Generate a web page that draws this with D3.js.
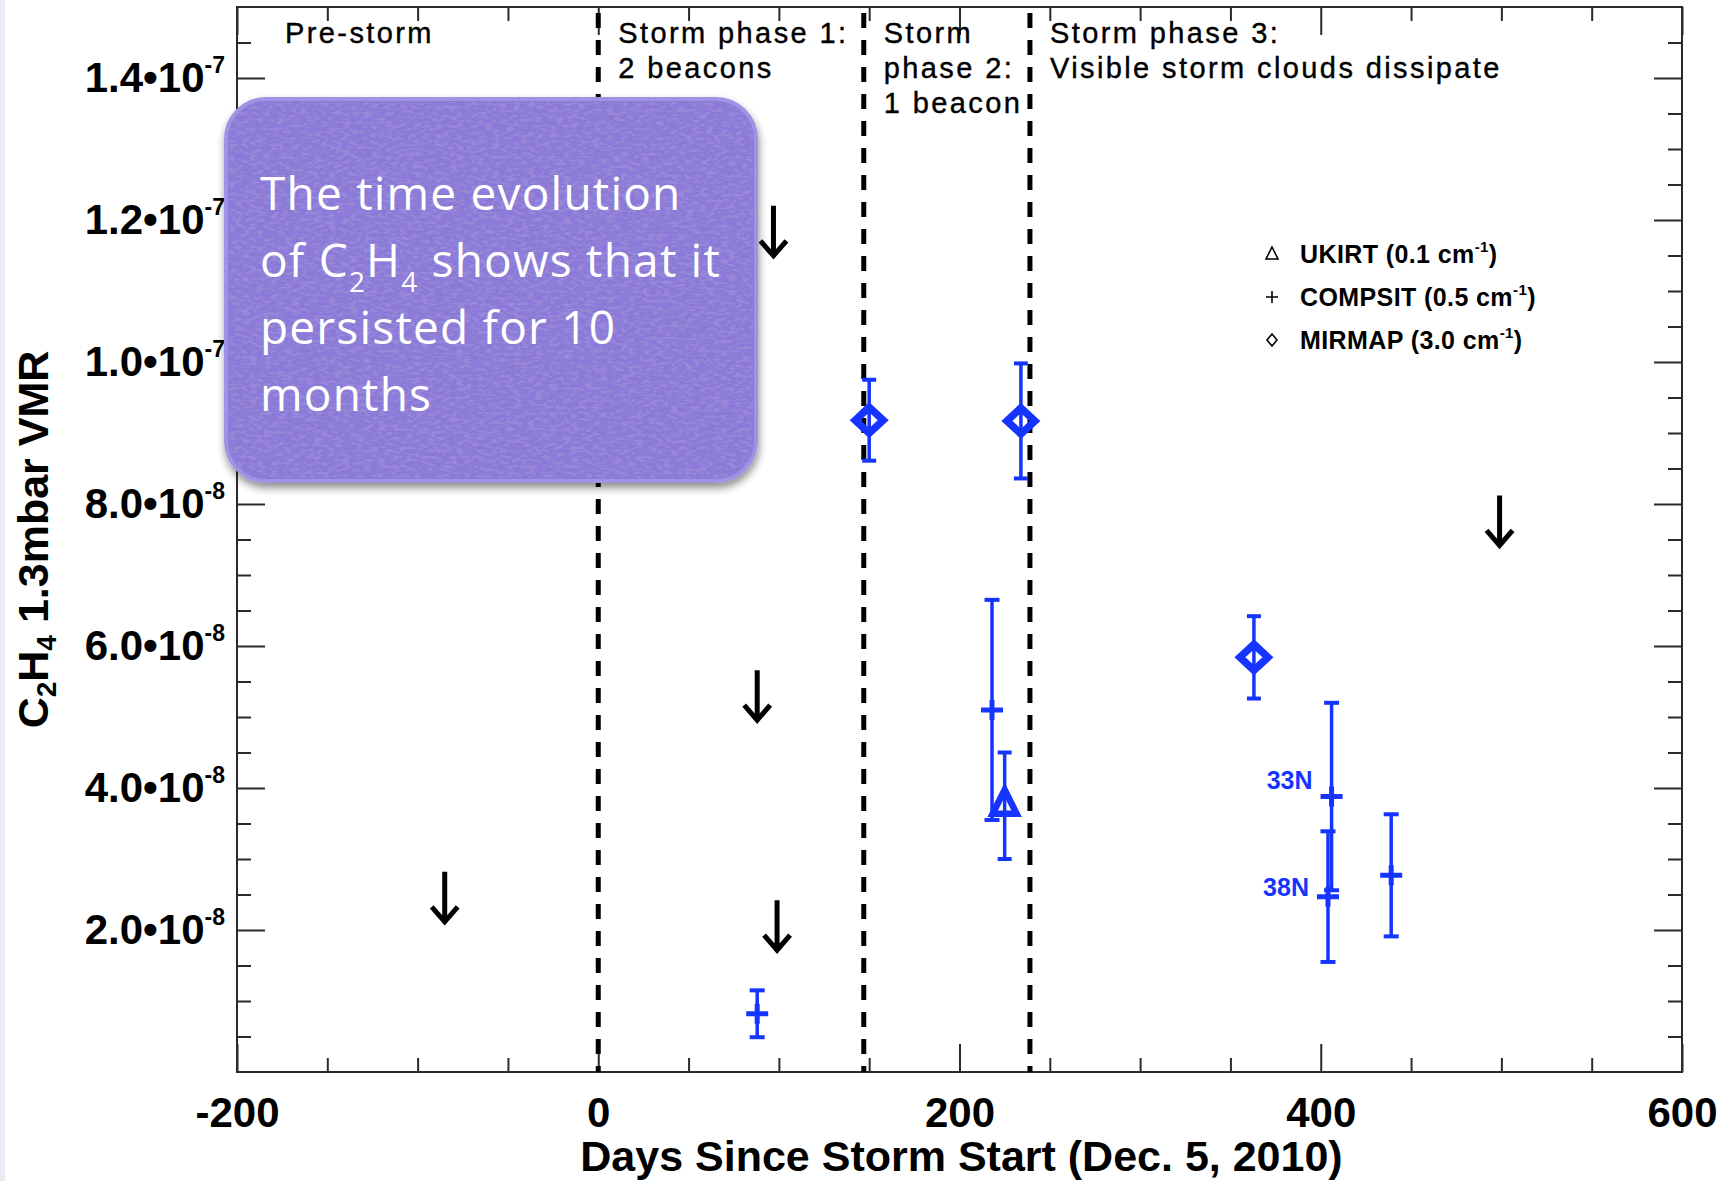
<!DOCTYPE html>
<html>
<head>
<meta charset="utf-8">
<script src="https://cdn.jsdelivr.net/npm/d3@7"></script>
<style>
  html, body { margin: 0; padding: 0; background: #ffffff; }
  svg { display: block; }
</style>
</head>
<body>
<svg id="chart" width="1730" height="1181"></svg>
<script>
// C2H4 volume mixing ratio at 1.3 mbar versus days since the storm began (Dec. 5, 2010)

// ---- axis ticks ----
const xTickValues = [-200, 0, 200, 400, 600];
const xTickLabels = ["-200", "0", "200", "400", "600"];
const xMinorTicks = [-150, -100, -50, 50, 100, 150, 250, 300, 350, 450, 500, 550];
const yTickValues = [2e-8, 4e-8, 6e-8, 8e-8, 1.0e-7, 1.2e-7, 1.4e-7];
const yTickMantissa = ["2.0", "4.0", "6.0", "8.0", "1.0", "1.2", "1.4"];
const yTickExponent = ["-8", "-8", "-8", "-8", "-7", "-7", "-7"];
const yMinorTicks = [0.5e-8, 1.0e-8, 1.5e-8, 2.5e-8, 3.0e-8, 3.5e-8, 4.5e-8, 5.0e-8, 5.5e-8,
                     6.5e-8, 7.0e-8, 7.5e-8, 8.5e-8, 9.0e-8, 9.5e-8, 1.05e-7, 1.1e-7, 1.15e-7,
                     1.25e-7, 1.3e-7, 1.35e-7, 1.45e-7];

// ---- storm phases ----
const phaseBoundaries = [0, 147, 239];
const phaseStarts = [-200, 0, 147, 239];
const phaseLabels = [
  ["Pre-storm"],
  ["Storm phase 1:", "2 beacons"],
  ["Storm", "phase 2:", "1 beacon"],
  ["Storm phase 3:", "Visible storm clouds dissipate"]
];

// ---- retrievals (value and 1-sigma error) ----
const ukirtDays = [225];
const ukirtVMR  = [3.75e-8];
const ukirtErr  = [0.75e-8];

const compsitDays = [88, 218, 406, 404, 439];
const compsitVMR  = [0.82e-8, 5.10e-8, 3.88e-8, 2.47e-8, 2.77e-8];
const compsitErr  = [0.33e-8, 1.55e-8, 1.32e-8, 0.92e-8, 0.86e-8];
const compsitLat  = ["", "", "33N", "38N", ""];

const mirmapDays = [150, 234, 363];
const mirmapVMR  = [9.18e-8, 9.17e-8, 5.84e-8];
const mirmapErr  = [0.57e-8, 0.81e-8, 0.58e-8];

// ---- upper limits (non-detections) ----
const limitDays = [-85, 88, 97, 99, 499];
const limitVMR  = [2.82e-8, 5.66e-8, 1.22e-7, 2.42e-8, 8.12e-8];

// ---- legend ----
const legendSymbols = ["triangle", "plus", "diamond"];
const legendNames   = ["UKIRT (0.1 cm", "COMPSIT (0.5 cm", "MIRMAP (3.0 cm"];

// ---- annotation ----
const noteLines = [
  [{t: "The time evolution"}],
  [{t: "of C"}, {t: "2", sub: true}, {t: "H"}, {t: "4", sub: true}, {t: " shows that it"}],
  [{t: "persisted for 10"}],
  [{t: "months"}]
];

// ================= drawing =================
const svg = d3.select("#chart");
const FONT = "'Liberation Sans', Arial, Helvetica, sans-serif";
const BLUE = "#1634ff";
const AXIS = "#2a2a2a";

const plot = {left: 237, right: 1682, top: 7, bottom: 1072};
const x = d3.scaleLinear().domain([-200, 600]).range([plot.left, plot.right]);
const y = d3.scaleLinear().domain([0, 1.5e-7]).range([plot.bottom, plot.top]);

// faint page edge on the left
svg.append("rect").attr("x", 0).attr("y", 0).attr("width", 5).attr("height", 1181).attr("fill", "#ecebf3");

const defs = svg.append("defs");
defs.append("clipPath").attr("id", "plotClip").append("rect")
  .attr("x", plot.left).attr("y", plot.top)
  .attr("width", plot.right - plot.left).attr("height", plot.bottom - plot.top);

function styleAxis(g) {
  g.select(".domain").remove();
  g.selectAll(".tick line").attr("stroke", AXIS).attr("stroke-width", 2);
}

// ticks on all four sides, pointing inward
const major = 28, minor = 14;
svg.append("g").attr("transform", `translate(0,${plot.bottom})`)
  .call(d3.axisBottom(x).tickValues(xMinorTicks).tickSize(-minor).tickFormat("")).call(styleAxis);
const xAxis = svg.append("g").attr("transform", `translate(0,${plot.bottom})`)
  .call(d3.axisBottom(x).tickValues(xTickValues).tickSize(-major).tickPadding(25)
        .tickFormat((d, i) => xTickLabels[i])).call(styleAxis);
xAxis.selectAll("text").attr("font-family", FONT).attr("font-size", 42)
  .attr("font-weight", "bold").attr("fill", "#000");

svg.append("g").attr("transform", `translate(0,${plot.top})`)
  .call(d3.axisTop(x).tickValues(xMinorTicks).tickSize(-minor).tickFormat("")).call(styleAxis);
svg.append("g").attr("transform", `translate(0,${plot.top})`)
  .call(d3.axisTop(x).tickValues(xTickValues).tickSize(-major).tickFormat("")).call(styleAxis);

svg.append("g").attr("transform", `translate(${plot.left},0)`)
  .call(d3.axisLeft(y).tickValues(yMinorTicks).tickSize(-minor).tickFormat("")).call(styleAxis);
svg.append("g").attr("transform", `translate(${plot.left},0)`)
  .call(d3.axisLeft(y).tickValues(yTickValues).tickSize(-major).tickFormat("")).call(styleAxis);
svg.append("g").attr("transform", `translate(${plot.right},0)`)
  .call(d3.axisRight(y).tickValues(yMinorTicks).tickSize(-minor).tickFormat("")).call(styleAxis);
svg.append("g").attr("transform", `translate(${plot.right},0)`)
  .call(d3.axisRight(y).tickValues(yTickValues).tickSize(-major).tickFormat("")).call(styleAxis);

// y tick labels in "m•10^e" form
const yLab = svg.append("g").attr("font-family", FONT).attr("font-weight", "bold").attr("fill", "#000");
yTickValues.forEach((v, i) => {
  const t = yLab.append("text").attr("x", plot.left - 12).attr("y", y(v) + 14)
    .attr("text-anchor", "end").attr("font-size", 42);
  t.append("tspan").text(yTickMantissa[i] + "\u202210");
  t.append("tspan").attr("dy", -19).attr("font-size", 23).text(yTickExponent[i]);
});

// frame
svg.append("rect").attr("x", plot.left).attr("y", plot.top)
  .attr("width", plot.right - plot.left).attr("height", plot.bottom - plot.top)
  .attr("fill", "none").attr("stroke", AXIS).attr("stroke-width", 2);

// axis titles
svg.append("text").attr("x", (plot.left + plot.right) / 2 + 2).attr("y", 1171)
  .attr("text-anchor", "middle").attr("font-family", FONT).attr("font-size", 43)
  .attr("font-weight", "bold").text("Days Since Storm Start (Dec. 5, 2010)");

const yTitle = svg.append("text").attr("transform", `translate(48,${(plot.top + plot.bottom) / 2}) rotate(-90)`)
  .attr("text-anchor", "middle").attr("font-family", FONT).attr("font-size", 43).attr("font-weight", "bold");
yTitle.append("tspan").text("C");
yTitle.append("tspan").attr("dy", 8).attr("font-size", 28).text("2");
yTitle.append("tspan").attr("dy", -8).text("H");
yTitle.append("tspan").attr("dy", 8).attr("font-size", 28).text("4");
yTitle.append("tspan").attr("dy", -8).text(" 1.3mbar VMR");

// phase boundaries
svg.append("g").selectAll("line").data(phaseBoundaries).join("line")
  .attr("x1", d => x(d)).attr("x2", d => x(d))
  .attr("y1", plot.top + 6).attr("y2", plot.bottom)
  .attr("stroke", "#000").attr("stroke-width", 5).attr("stroke-dasharray", "15,12");

// phase labels
const phaseG = svg.append("g").attr("font-family", FONT).attr("font-size", 29)
  .attr("letter-spacing", 2.4).attr("fill", "#000").attr("stroke", "#000").attr("stroke-width", 0.4);
phaseLabels.forEach((lines, i) => {
  const x0 = x(phaseStarts[i]) + (i === 0 ? 48 : 20);
  lines.forEach((s, j) => {
    phaseG.append("text").attr("x", x0).attr("y", 43 + j * 35).text(s);
  });
});

// error bars
const marks = svg.append("g").attr("clip-path", "url(#plotClip)");
function errorBars(days, vals, errs, capHalf) {
  const g = marks.append("g").attr("stroke", BLUE).attr("stroke-width", 3.5).attr("fill", "none");
  days.forEach((d, i) => {
    const cx = x(d), y0 = y(vals[i] - errs[i]), y1 = y(vals[i] + errs[i]);
    g.append("line").attr("x1", cx).attr("x2", cx).attr("y1", y0).attr("y2", y1);
    g.append("line").attr("x1", cx - capHalf).attr("x2", cx + capHalf).attr("y1", y0).attr("y2", y0).attr("stroke-width", 4);
    g.append("line").attr("x1", cx - capHalf).attr("x2", cx + capHalf).attr("y1", y1).attr("y2", y1).attr("stroke-width", 4);
  });
}
errorBars(compsitDays, compsitVMR, compsitErr, 7.5);
errorBars(mirmapDays, mirmapVMR, mirmapErr, 7);
errorBars(ukirtDays, ukirtVMR, ukirtErr, 7);

const symbolPaths = {
  plus: "M-11,0H11M0,-10V10",
  diamond: "M0,-13L14,0L0,13L-14,0Z",
  triangle: "M0,-16L12,8L-12,8Z"
};

marks.append("g").selectAll("path").data(compsitDays).join("path")
  .attr("d", symbolPaths.plus)
  .attr("transform", (d, i) => `translate(${x(d)},${y(compsitVMR[i])})`)
  .attr("fill", "none").attr("stroke", BLUE).attr("stroke-width", 5);

marks.append("g").selectAll("path").data(mirmapDays).join("path")
  .attr("d", symbolPaths.diamond)
  .attr("transform", (d, i) => `translate(${x(d)},${y(mirmapVMR[i])})`)
  .attr("fill", "none").attr("stroke", BLUE).attr("stroke-width", 7.5).attr("stroke-linejoin", "miter");

marks.append("g").selectAll("path").data(ukirtDays).join("path")
  .attr("d", symbolPaths.triangle)
  .attr("transform", (d, i) => `translate(${x(d)},${y(ukirtVMR[i])})`)
  .attr("fill", "none").attr("stroke", BLUE).attr("stroke-width", 6.5);

// latitude tags beside the COMPSIT points
svg.append("g").attr("font-family", FONT).attr("font-size", 25).attr("font-weight", "bold").attr("fill", BLUE)
  .selectAll("text").data(compsitDays.map((d, i) => i).filter(i => compsitLat[i])).join("text")
  .attr("x", i => x(compsitDays[i]) - 19)
  .attr("y", (i, k) => y(compsitVMR[i]) + (k === 0 ? -8 : -1))
  .attr("text-anchor", "end").text(i => compsitLat[i]);

// upper-limit arrows
svg.append("g").selectAll("path").data(limitDays).join("path")
  .attr("d", (d, i) => {
    const cx = x(d), top = y(limitVMR[i]), tip = top + 50;
    return `M${cx},${top}V${tip - 2}M${cx - 13},${tip - 15}L${cx},${tip}L${cx + 13},${tip - 15}`;
  })
  .attr("fill", "none").attr("stroke", "#000").attr("stroke-width", 5).attr("stroke-linejoin", "miter");

// legend
const legendSmall = {
  triangle: "M0,-7L6,5L-6,5Z",
  plus: "M-6,0H6M0,-6V6",
  diamond: "M0,-6L5,0L0,6L-5,0Z"
};
const leg = svg.append("g");
legendNames.forEach((name, i) => {
  const cy = 254 + i * 43;
  leg.append("path").attr("d", legendSmall[legendSymbols[i]])
    .attr("transform", `translate(1272,${cy})`)
    .attr("fill", "none").attr("stroke", "#000").attr("stroke-width", 1.6);
  const t = leg.append("text").attr("x", 1300).attr("y", cy + 9)
    .attr("font-family", FONT).attr("font-size", 25).attr("letter-spacing", 0.4).attr("font-weight", "bold");
  t.append("tspan").text(name);
  t.append("tspan").attr("dy", -11).attr("font-size", 15).text("-1");
  t.append("tspan").attr("dy", 11).text(")");
});

// ---- annotation box ----
const shadow = defs.append("filter").attr("id", "boxShadow")
  .attr("x", "-10%").attr("y", "-10%").attr("width", "125%").attr("height", "130%");
shadow.append("feGaussianBlur").attr("in", "SourceAlpha").attr("stdDeviation", 4);
shadow.append("feOffset").attr("dx", 1).attr("dy", 5).attr("result", "off");
shadow.append("feComponentTransfer").attr("result", "sh")
  .append("feFuncA").attr("type", "linear").attr("slope", 0.45);
const merge = shadow.append("feMerge");
merge.append("feMergeNode").attr("in", "sh");
merge.append("feMergeNode").attr("in", "SourceGraphic");

const grain = defs.append("filter").attr("id", "grain")
  .attr("x", 0).attr("y", 0).attr("width", "100%").attr("height", "100%");
grain.append("feTurbulence").attr("type", "fractalNoise").attr("baseFrequency", "0.14 0.32")
  .attr("numOctaves", 3).attr("seed", 7).attr("result", "noise");
grain.append("feColorMatrix").attr("in", "noise").attr("type", "matrix")
  .attr("values", "0 0 0 0 0.34  0 0 0 0 0.27  0 0 0 0 0.68  7 0 0 0 -3.4").attr("result", "dark");
grain.append("feComposite").attr("in", "dark").attr("in2", "SourceAlpha").attr("operator", "in");

const box = {x: 226, y: 99, w: 530, h: 382, r: 40};
const note = svg.append("g");
note.append("rect").attr("x", box.x).attr("y", box.y).attr("width", box.w).attr("height", box.h)
  .attr("rx", box.r).attr("fill", "#8b7ad8").attr("stroke", "#a193e3").attr("stroke-width", 4)
  .attr("filter", "url(#boxShadow)");
note.append("rect").attr("x", box.x + 3).attr("y", box.y + 3).attr("width", box.w - 6).attr("height", box.h - 6)
  .attr("rx", box.r - 3).attr("fill", "#000").attr("opacity", 0.7).attr("filter", "url(#grain)");

const noteText = note.append("g").attr("font-family", "'Open Sans', Lato, sans-serif")
  .attr("font-size", 46).attr("letter-spacing", 1.2).attr("fill", "#ffffff");
noteLines.forEach((parts, j) => {
  const t = noteText.append("text").attr("x", 260).attr("y", 210 + j * 67);
  let lowered = false;
  parts.forEach(p => {
    const span = t.append("tspan").text(p.t);
    if (p.sub) {
      span.attr("font-size", 28).attr("dy", lowered ? 0 : 15);
      lowered = true;
    } else {
      span.attr("dy", lowered ? -15 : 0);
      lowered = false;
    }
  });
});
</script>
</body>
</html>
